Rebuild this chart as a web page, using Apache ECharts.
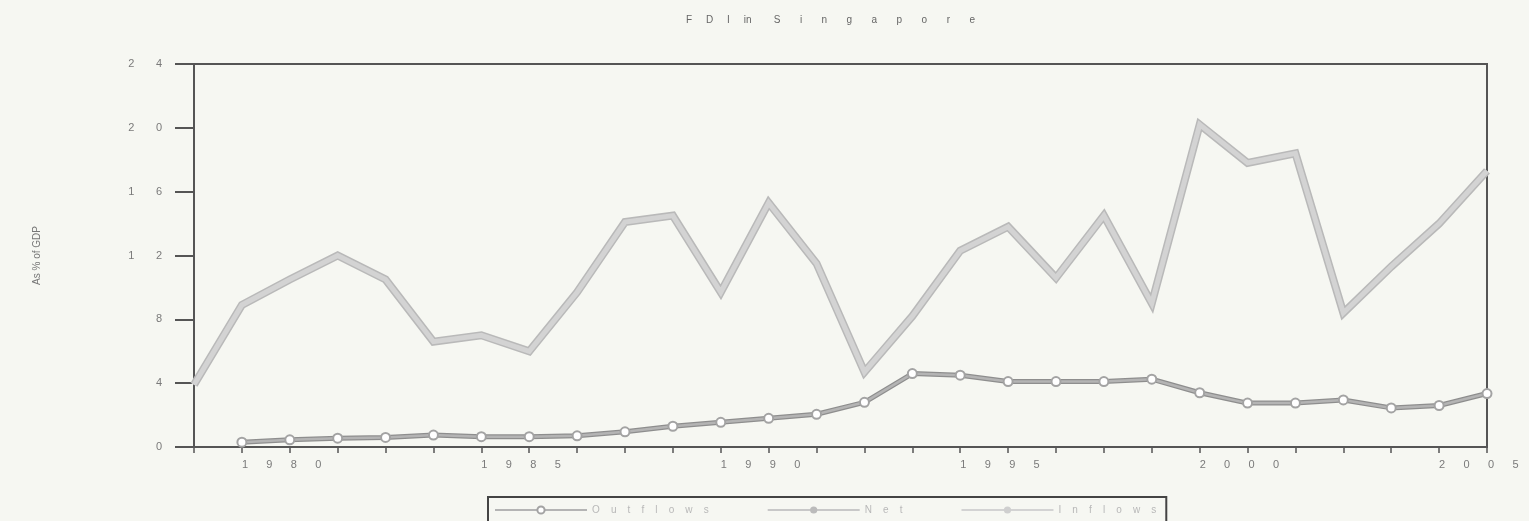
<!DOCTYPE html>
<html>
<head>
<meta charset="utf-8">
<title>FDI in Singapore</title>
<script src="https://cdn.jsdelivr.net/npm/echarts@6/dist/echarts.min.js"></script>
<style>
  html, body { margin: 0; padding: 0; background: #f6f7f2; }
  #chart { width: 1529px; height: 521px; }
</style>
</head>
<body>
<div id="chart"></div>
<script>
// data
const years = [1979, 1980, 1981, 1982, 1983, 1984, 1985, 1986, 1987, 1988, 1989, 1990, 1991, 1992,
  1993, 1994, 1995, 1996, 1997, 1998, 1999, 2000, 2001, 2002, 2003, 2004, 2005, 2006];
const inflows = [3.9, 8.9, 10.5, 12.0, 10.5, 6.6, 7.0, 6.0, 9.7, 14.1, 14.5, 9.7, 15.3, 11.5,
  4.7, 8.2, 12.3, 13.8, 10.6, 14.5, 9.0, 20.2, 17.8, 18.4, 8.4, 11.3, 14.0, 17.3];
const outflows = [null, 0.3, 0.45, 0.55, 0.6, 0.75, 0.65, 0.65, 0.7, 0.95, 1.3, 1.55, 1.8, 2.05,
  2.8, 4.6, 4.5, 4.1, 4.1, 4.1, 4.25, 3.4, 2.75, 2.75, 2.95, 2.45, 2.6, 3.35];
const netFlows = [];
const seriesNames = ['Outflows', 'Net', 'Inflows'];
const yTicks = [0, 4, 8, 12, 16, 20, 24];

// old printer look: every glyph spaced out
const spaced = (s, gap) => String(s).split('').join(gap);
const sp = (n) => ' '.repeat(n);

const chart = echarts.init(document.getElementById('chart'));
const axisGrey = '#555';
const textGrey = '#7a7a7a';

const titleText = spaced('FDI', sp(5)) + sp(5) + 'in' + sp(8) + spaced('Singapore', sp(7));

const option = {
  backgroundColor: '#f6f7f2',
  textStyle: { fontFamily: 'Liberation Sans, Arial, sans-serif' },
  title: {
    text: titleText,
    left: 681,
    top: 10,
    textStyle: { fontSize: 10, fontWeight: 'normal', color: '#666' }
  },
  legend: {
    data: seriesNames,
    left: 488,
    top: 497,
    padding: [8, 10, 8, 6],
    itemGap: 58,
    itemWidth: 92,
    itemHeight: 9,
    borderColor: '#444',
    borderWidth: 2,
    borderRadius: 0,
    formatter: (name) => spaced(name, sp(4)),
    textStyle: { fontSize: 10, color: '#b8b8b8' }
  },
  grid: {
    left: 194,
    right: 42,
    top: 64,
    bottom: 74,
    show: true,
    borderColor: axisGrey,
    borderWidth: 2,
    backgroundColor: 'transparent'
  },
  xAxis: {
    type: 'category',
    data: years,
    boundaryGap: false,
    axisLine: { lineStyle: { color: axisGrey, width: 2 } },
    axisTick: {
      interval: 0,
      length: 6,
      lineStyle: { color: axisGrey, width: 1.5 }
    },
    axisLabel: {
      interval: (idx, val) => Number(val) % 5 === 0,
      align: 'left',
      margin: 12,
      fontSize: 11,
      color: textGrey,
      formatter: (v) => spaced(v, sp(6))
    },
    splitLine: { show: false }
  },
  yAxis: {
    type: 'value',
    min: yTicks[0],
    max: yTicks[yTicks.length - 1],
    interval: 4,
    name: 'As % of GDP',
    nameLocation: 'middle',
    nameGap: 152,
    nameTextStyle: { fontSize: 10, color: '#777' },
    axisLine: { show: true, lineStyle: { color: axisGrey, width: 2 } },
    axisTick: { show: true, length: 19, lineStyle: { color: axisGrey, width: 2 } },
    axisLabel: {
      margin: 32,
      fontSize: 11,
      color: textGrey,
      formatter: (v) => spaced(v, sp(7))
    },
    splitLine: { show: false }
  },
  series: [
    {
      // darker rim under the outflow line
      name: 'outflowRim',
      type: 'line',
      data: outflows,
      symbol: 'none',
      silent: true,
      z: 2,
      lineStyle: { color: '#8e8e8e', width: 5 }
    },
    {
      name: seriesNames[0],
      type: 'line',
      data: outflows,
      symbol: 'emptyCircle',
      symbolSize: 9,
      showAllSymbol: true,
      z: 3,
      itemStyle: { color: '#a3a3a3', borderColor: '#8a8a8a', borderWidth: 2 },
      lineStyle: { color: '#b4b4b4', width: 2.5 }
    },
    {
      name: seriesNames[1],
      type: 'line',
      data: netFlows,
      symbol: 'circle',
      symbolSize: 4,
      itemStyle: { color: '#bbbbbb' },
      lineStyle: { color: '#c8c8c8', width: 1 }
    },
    {
      // darker rim under the inflow band
      name: 'inflowRim',
      type: 'line',
      data: inflows,
      symbol: 'none',
      silent: true,
      z: 1,
      lineStyle: { color: '#b9b9b9', width: 8, join: 'miter' }
    },
    {
      name: seriesNames[2],
      type: 'line',
      data: inflows,
      symbol: 'none',
      z: 1.5,
      itemStyle: { color: '#cfcfcf' },
      lineStyle: { color: '#d3d3d3', width: 5, join: 'miter' }
    }
  ]
};

chart.setOption(option);
</script>
</body>
</html>
